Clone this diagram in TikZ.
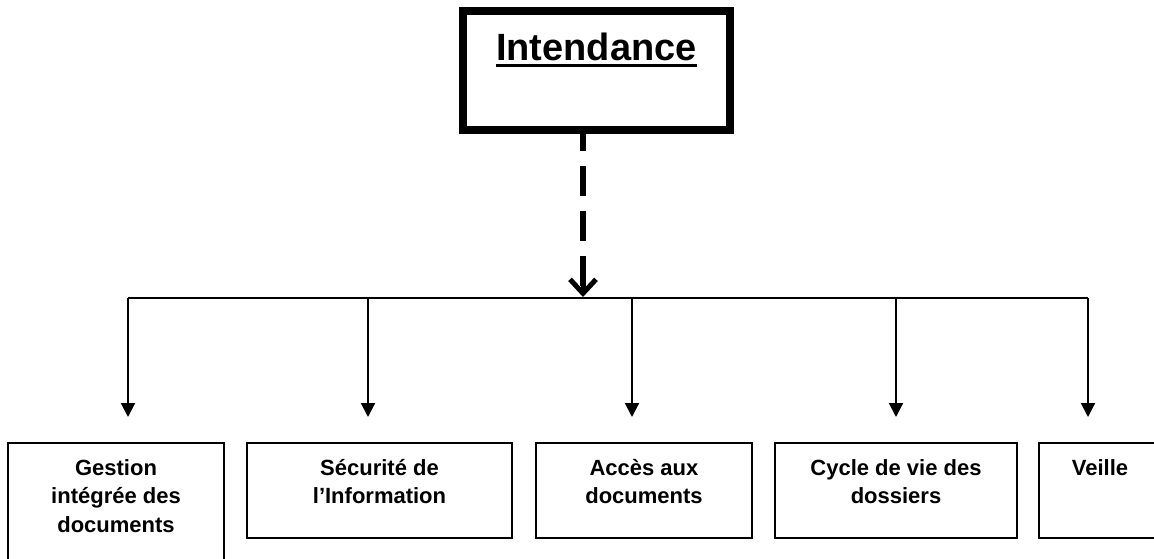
\documentclass[tikz,border=0pt]{standalone}
\usepackage{fontspec}
\setmainfont{Liberation Sans}
\usetikzlibrary{arrows.meta}
\begin{document}
\begin{tikzpicture}[x=1pt,y=1pt,
  box/.style={draw, line width=2pt, inner sep=0pt, outer sep=0pt},
  boxtext/.style={anchor=north, inner sep=0pt, align=center, font=\fontsize{22}{28.5}\selectfont\bfseries},
  branch/.style={line width=2pt, -{Triangle[length=14pt,width=14pt]}, shorten >=26pt},
  bus/.style={line width=2pt}
]
\useasboundingbox (0,0) rectangle (1154,-558);
\clip (0,0) rectangle (1154,-558);
\fill[white] (0,0) rectangle (1154,-558);

% top box
\node[draw, line width=8pt, minimum width=267pt, minimum height=119pt, inner sep=0pt, outer sep=0pt] (top) at (596.5,-70.5) {};
\node[anchor=base, inner sep=0pt, font=\fontsize{38}{44}\selectfont\bfseries] (title) at (596.5,-60) {Intendance};
\draw[line width=3.5pt] ([yshift=-5.5pt]title.base west) -- ([yshift=-5.5pt]title.base east);

% bottom boxes
\node[box, minimum width=216pt, minimum height=127pt] (g1) at (116,-506.5) {};
\node[box, minimum width=265pt, minimum height=95pt] (g2) at (379.5,-490.5) {};
\node[box, minimum width=216pt, minimum height=95pt] (g3) at (644,-490.5) {};
\node[box, minimum width=242pt, minimum height=95pt] (g4) at (896,-490.5) {};
\node[box, minimum width=122pt, minimum height=95pt] (g5) at (1100,-490.5) {};

\node[boxtext] (t1) at ([yshift=-12pt]g1.north) {\strut Gestion\\intégrée des\\documents};
\node[boxtext] (t2) at ([yshift=-12pt]g2.north) {\strut Sécurité de\\l’Information};
\node[boxtext] (t3) at ([yshift=-12pt]g3.north) {\strut Accès aux\\documents};
\node[boxtext] (t4) at ([yshift=-12pt]g4.north) {\strut Cycle de vie des\\dossiers};
\node[boxtext] (t5) at ([yshift=-12pt]g5.north) {\strut Veille};

% bus
\coordinate (j) at (583,-298);
\coordinate (b1) at (128,-298);
\coordinate (b2) at (368,-298);
\coordinate (b3) at (632,-298);
\coordinate (b4) at (896,-298);
\coordinate (b5) at (1088,-298);
\draw[bus] (b1) -- (b5);

% dashed connector
\draw[line width=6pt, dash pattern=on 30pt off 15pt, dash phase=9pt] (top.south -| j) -- ([yshift=4pt]j);
\draw[line width=5pt, -{Straight Barb[length=14pt,width=26pt,line width=5pt]}] ([yshift=30pt]j) -- ([yshift=1pt]j);

% branches
\draw[branch] (b1) -- (b1 |- g1.north);
\draw[branch] (b2) -- (b2 |- g2.north);
\draw[branch] (b3) -- (b3 |- g3.north);
\draw[branch] (b4) -- (b4 |- g4.north);
\draw[branch] (b5) -- (b5 |- g5.north);
\end{tikzpicture}
\end{document}
